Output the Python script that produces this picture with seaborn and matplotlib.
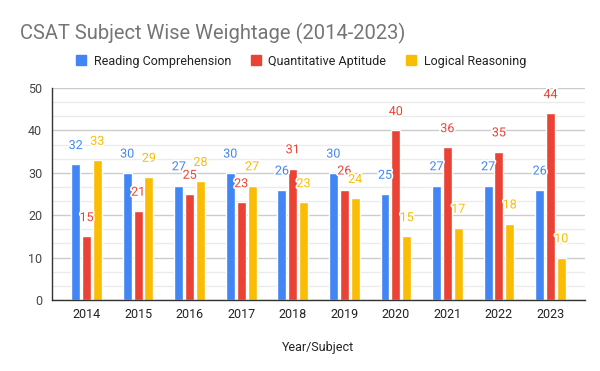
import matplotlib
matplotlib.use("Agg")
import matplotlib.pyplot as plt
import matplotlib.patheffects as pe
from matplotlib.ticker import MultipleLocator
from matplotlib.patches import Patch
import seaborn as sns
import pandas as pd

years = ["2014", "2015", "2016", "2017", "2018", "2019", "2020", "2021", "2022", "2023"]
reading = [32, 30, 27, 30, 26, 30, 25, 27, 27, 26]
quant = [15, 21, 25, 23, 31, 26, 40, 36, 35, 44]
logical = [33, 29, 28, 27, 23, 24, 15, 17, 18, 10]
series_names = ["Reading Comprehension", "Quantitative Aptitude", "Logical Reasoning"]
colors = ["#4285F4", "#EA4335", "#FBBC04"]

df = pd.DataFrame({
    "Year": years * 3,
    "Subject": [series_names[0]] * 10 + [series_names[1]] * 10 + [series_names[2]] * 10,
    "Value": reading + quant + logical,
})

sns.set_theme(style="white")
plt.rcParams['font.family'] = ['Roboto', 'DejaVu Sans']

fig = plt.figure(figsize=(6, 3.71), dpi=100)
ax = fig.add_axes([0.0867, 0.1914, 0.975 - 0.0867, 0.7628 - 0.1914])

sns.barplot(data=df, x="Year", y="Value", hue="Subject", hue_order=series_names,
            palette=colors, width=0.63, gap=0.17, ax=ax, legend=False,
            saturation=1, errorbar=None)

ax.set_ylim(0, 50)
ax.set_xlim(-0.67, 9.67)
ax.yaxis.set_major_locator(MultipleLocator(10))
ax.yaxis.set_minor_locator(MultipleLocator(10 / 3))
ax.grid(which="major", axis="y", color="#cccccc", linewidth=1)
ax.grid(which="minor", axis="y", color="#ebebeb", linewidth=1)
ax.set_axisbelow(True)
for s in ["top", "right"]:
    ax.spines[s].set_visible(False)
ax.spines["left"].set_color("#333333")
ax.spines["bottom"].set_color("#333333")
ax.spines["left"].set_linewidth(1)
ax.spines["bottom"].set_linewidth(1)
ax.tick_params(axis="y", which="major", length=3, color="#333333", labelsize=9, labelcolor="#444444", pad=4)
ax.tick_params(axis="y", which="minor", length=0)
ax.tick_params(axis="x", length=0, labelsize=9, labelcolor="#222222", pad=6)
ax.set_ylabel("")
ax.set_xlabel("Year/Subject", fontsize=9, color="#222222", labelpad=14)

for container, col in zip(ax.containers, colors):
    for bar in container:
        h = bar.get_height()
        ax.annotate(f"{int(round(h))}", (bar.get_x() + bar.get_width() / 2, h),
                    xytext=(0, 13.5), textcoords="offset points",
                    ha="center", va="center", fontsize=9, color=col,
                    path_effects=[pe.withStroke(linewidth=2.5, foreground="white")])

fig.text(20 / 600, 1 - 33 / 371, "CSAT Subject Wise Weightage (2014-2023)",
         fontsize=14.5, color="#757575", ha="left", va="center")

handles = [Patch(facecolor=c, edgecolor=c) for c in colors]
fig.legend(handles, series_names, loc="center", bbox_to_anchor=(0.502, 1 - 61 / 371),
           ncol=3, frameon=False, fontsize=9, handlelength=0.8, handleheight=0.8,
           handletextpad=0.6, columnspacing=1.6, labelcolor="#222222")

fig.savefig("out.png", dpi=100, facecolor="white")
